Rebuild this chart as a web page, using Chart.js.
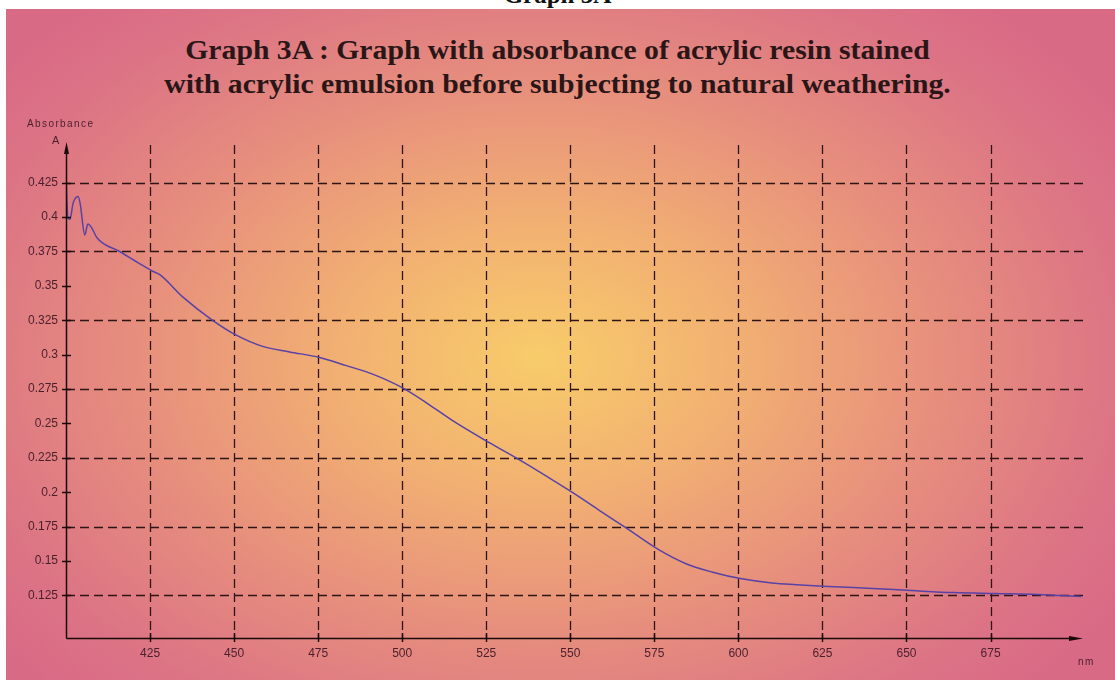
<!DOCTYPE html>
<html>
<head>
<meta charset="utf-8">
<script src="https://cdn.jsdelivr.net/npm/chart.js@4.4.1/dist/chart.umd.min.js"></script>
<style>
    html, body { margin: 0; padding: 0; background: #fff; }
    #wrap { position: relative; width: 1115px; height: 682px; overflow: hidden; }
    #bg {
        position: absolute; left: 6px; top: 9px; width: 1109px; height: 671px;
        background: radial-gradient(ellipse 62% 70% at 48% 52%, #f8cc6a 0%, #f2b172 28%, #e78f7d 58%, #dc7485 85%, #d96a86 100%);
    }
    #topLabel {
        position: absolute; left: 0; width: 1115px; top: -19px; text-align: center;
        font: bold 25px "Liberation Serif", serif; color: #111;
    }
    .title {
        position: absolute; left: 0; width: 1115px; text-align: center;
        font: bold 27px "Liberation Serif", serif; color: #2a1616;
        transform: scaleX(1.1); transform-origin: 50% 50%;
    }
    #chart { position: absolute; left: 0; top: 0; }
</style>
</head>
<body>
<div id="wrap">
    <div id="bg"></div>
    <div id="topLabel">Graph 3A</div>
    <div class="title" style="top:35px">Graph 3A : Graph with absorbance of acrylic resin stained</div>
    <div class="title" style="top:69px">with acrylic emulsion before subjecting to natural weathering.</div>
    <canvas id="chart" width="1115" height="682"></canvas>
</div>
<script>
const wavelength = [400, 400.6, 401.2, 402.1, 403.6, 404.2, 405.6, 406.5, 407.7, 409.2, 416, 422, 425.5, 428, 434.7,
    443.6, 450.8, 458.5, 466.5, 475.4, 483.4, 491, 500, 507.2, 515, 525.9, 533.9, 550.5, 558.5, 566.6, 576.4,
    584.4, 592.1, 601, 610, 626.8, 640, 651.5, 664, 676.4, 689, 702];
const absorbance = [0.427, 0.399, 0.3985, 0.41, 0.415, 0.41, 0.387, 0.395, 0.392, 0.385, 0.375, 0.366, 0.361, 0.358, 0.342,
    0.325, 0.314, 0.306, 0.302, 0.298, 0.292, 0.286, 0.276, 0.265, 0.252, 0.236, 0.225, 0.200, 0.187, 0.174, 0.158,
    0.148, 0.142, 0.137, 0.134, 0.1315, 0.130, 0.1285, 0.127, 0.1263, 0.1256, 0.1241];
const xTicks = [425, 450, 475, 500, 525, 550, 575, 600, 625, 650, 675];
const yTicks = [0.125, 0.15, 0.175, 0.2, 0.225, 0.25, 0.275, 0.3, 0.325, 0.35, 0.375, 0.4, 0.425];
const yGrid = [0.125, 0.175, 0.225, 0.275, 0.325, 0.375, 0.425];

const inkColor = '#2e1515';
const labelColor = '#4a1f2c';

// grid, tick marks, axes with arrows and axis names
const axesPlugin = {
    id: 'axesPlugin',
    beforeDatasetsDraw(chart) {
        const { ctx, chartArea: a, scales: { x, y } } = chart;
        ctx.save();
        ctx.strokeStyle = inkColor;
        ctx.lineWidth = 1.3;
        ctx.setLineDash([9, 5]);
        yGrid.forEach(v => {
            const py = Math.round(y.getPixelForValue(v)) + 0.5;
            ctx.beginPath(); ctx.moveTo(a.left, py); ctx.lineTo(a.right, py); ctx.stroke();
        });
        xTicks.forEach(v => {
            const px = Math.round(x.getPixelForValue(v)) + 0.5;
            ctx.beginPath(); ctx.moveTo(px, a.top + 3); ctx.lineTo(px, a.bottom); ctx.stroke();
        });
        ctx.restore();
    },
    afterDraw(chart) {
        const { ctx, chartArea: a, scales: { x, y } } = chart;
        ctx.save();
        ctx.strokeStyle = '#1a0a0a';
        ctx.fillStyle = '#1a0a0a';
        ctx.lineWidth = 1.5;
        ctx.setLineDash([]);
        // tick marks
        yTicks.forEach(v => {
            const py = Math.round(y.getPixelForValue(v)) + 0.5;
            ctx.beginPath(); ctx.moveTo(a.left - 4, py); ctx.lineTo(a.left + 5, py); ctx.stroke();
        });
        xTicks.forEach(v => {
            const px = Math.round(x.getPixelForValue(v)) + 0.5;
            ctx.beginPath(); ctx.moveTo(px, a.bottom - 5); ctx.lineTo(px, a.bottom + 4); ctx.stroke();
        });
        // axes
        const ax = Math.round(a.left) + 0.5, ay = Math.round(a.bottom) + 0.5;
        ctx.beginPath(); ctx.moveTo(ax, ay); ctx.lineTo(ax, a.top + 8); ctx.stroke();
        ctx.beginPath(); ctx.moveTo(ax, ay); ctx.lineTo(a.right - 10, ay); ctx.stroke();
        ctx.beginPath();
        ctx.moveTo(ax, a.top); ctx.lineTo(ax - 2.5, a.top + 12); ctx.lineTo(ax + 2.5, a.top + 12); ctx.closePath(); ctx.fill();
        ctx.beginPath();
        ctx.moveTo(a.right, ay); ctx.lineTo(a.right - 14, ay - 2.5); ctx.lineTo(a.right - 14, ay + 2.5); ctx.closePath(); ctx.fill();
        // axis names
        ctx.fillStyle = labelColor;
        ctx.font = '10px "Liberation Sans", Arial, sans-serif';
        ctx.textAlign = 'left';
        ctx.textBaseline = 'middle';
        ctx.letterSpacing = '1.4px';
        ctx.fillText('Absorbance', 27, 124);
        ctx.fillText('nm', 1078, 662);
        ctx.letterSpacing = '0px';
        ctx.font = '11px "Liberation Sans", Arial, sans-serif';
        ctx.fillText('A', 52, 141);
        ctx.restore();
    }
};

new Chart(document.getElementById('chart'), {
    type: 'line',
    data: {
        datasets: [{
            data: wavelength.map((w, i) => ({ x: w, y: absorbance[i] })),
            borderColor: '#5842a6',
            borderWidth: 1.5,
            pointRadius: 0,
            cubicInterpolationMode: 'monotone',
            fill: false
        }]
    },
    options: {
        responsive: false,
        animation: false,
        layout: { padding: { top: 142, right: 32, left: 0, bottom: 0 } },
        plugins: { legend: { display: false }, tooltip: { enabled: false } },
        scales: {
            x: {
                type: 'linear',
                min: 400,
                max: 702.5,
                afterBuildTicks: s => { s.ticks = xTicks.map(v => ({ value: v })); },
                afterFit: s => { s.height = 44; },
                grid: { display: false },
                border: { display: false },
                ticks: {
                    padding: 0,
                    color: labelColor,
                    font: { family: '"Liberation Sans", Arial, sans-serif', size: 12 },
                    callback: v => String(v),
                    maxRotation: 0
                }
            },
            y: {
                type: 'linear',
                min: 0.094,
                max: 0.4546,
                afterBuildTicks: s => { s.ticks = yTicks.map(v => ({ value: v })); },
                afterFit: s => { s.width = 66; },
                grid: { display: false },
                border: { display: false },
                ticks: {
                    padding: 0,
                    color: labelColor,
                    font: { family: '"Liberation Sans", Arial, sans-serif', size: 12 },
                    callback: v => String(+v.toFixed(3))
                }
            }
        }
    },
    plugins: [axesPlugin]
});
</script>
</body>
</html>
